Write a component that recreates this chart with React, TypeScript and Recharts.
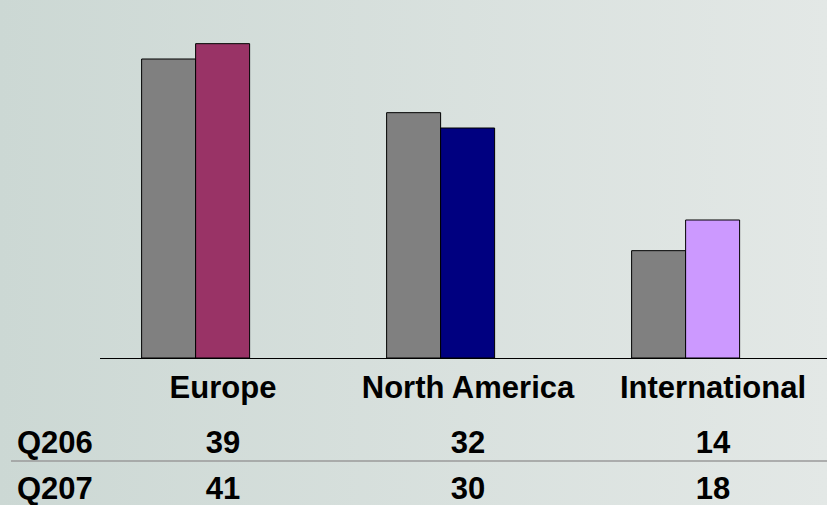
import React from 'react';
import { BarChart, Bar, XAxis, YAxis, Cell } from 'recharts';

const categories = ['Europe', 'North America', 'International'];
const seriesNames = ['Q206', 'Q207'];
const q206 = [39, 32, 14];
const q207 = [41, 30, 18];
const q206Color = '#808080';
const q207Colors = ['#993366', '#000080', '#CC99FF'];

const data = categories.map((c, i) => ({ name: c, q206: q206[i], q207: q207[i] }));

const FONT = '"Liberation Sans", Arial, sans-serif';
const FS = 31;
const LABEL_OFFSET = 27;

function Tick(props: any) {
  const { x, payload } = props;
  const i = categories.indexOf(payload.value);
  const cx = x + LABEL_OFFSET;
  const common = { textAnchor: 'middle' as const, fontFamily: FONT, fontWeight: 700, fontSize: FS, fill: '#000' };
  return (
    <g>
      <text x={cx} y={398} {...common}>{payload.value}</text>
      <text x={cx} y={453} {...common}>{q206[i]}</text>
      <text x={cx} y={499} {...common}>{q207[i]}</text>
    </g>
  );
}

export default function App() {
  return (
    <div
      style={{
        position: 'absolute',
        left: 0,
        top: 0,
        width: 827,
        height: 505,
        overflow: 'hidden',
        background: 'linear-gradient(to right, #ccd8d4, #e3e8e6)',
      }}
    >
      <BarChart
        width={827}
        height={505}
        data={data}
        margin={{ top: 13, right: 18.5, bottom: 0, left: 73.5 }}
        barCategoryGap="27.8%"
        barGap={0}
      >
        <YAxis hide domain={[0, 45]} />
        <XAxis
          dataKey="name"
          height={147}
          axisLine={false}
          tickLine={false}
          interval={0}
          tick={<Tick />}
        />
        <Bar dataKey="q206" name={seriesNames[0]} fill={q206Color} stroke="#000" strokeWidth={1} isAnimationActive={false} />
        <Bar dataKey="q207" name={seriesNames[1]} stroke="#000" strokeWidth={1} isAnimationActive={false}>
          {categories.map((c, i) => (
            <Cell key={c} fill={q207Colors[i]} />
          ))}
        </Bar>
      </BarChart>
      <svg
        width={827}
        height={505}
        style={{ position: 'absolute', left: 0, top: 0, pointerEvents: 'none' }}
      >
        <line x1={100} x2={827} y1={358.5} y2={358.5} stroke="#000" strokeWidth={1.2} />
        <line x1={11} x2={827} y1={461} y2={461} stroke="#9a9a9a" strokeWidth={1.6} />
        <text x={17} y={453} fontFamily={FONT} fontWeight={700} fontSize={FS} fill="#000">{seriesNames[0]}</text>
        <text x={17} y={499} fontFamily={FONT} fontWeight={700} fontSize={FS} fill="#000">{seriesNames[1]}</text>
      </svg>
    </div>
  );
}
